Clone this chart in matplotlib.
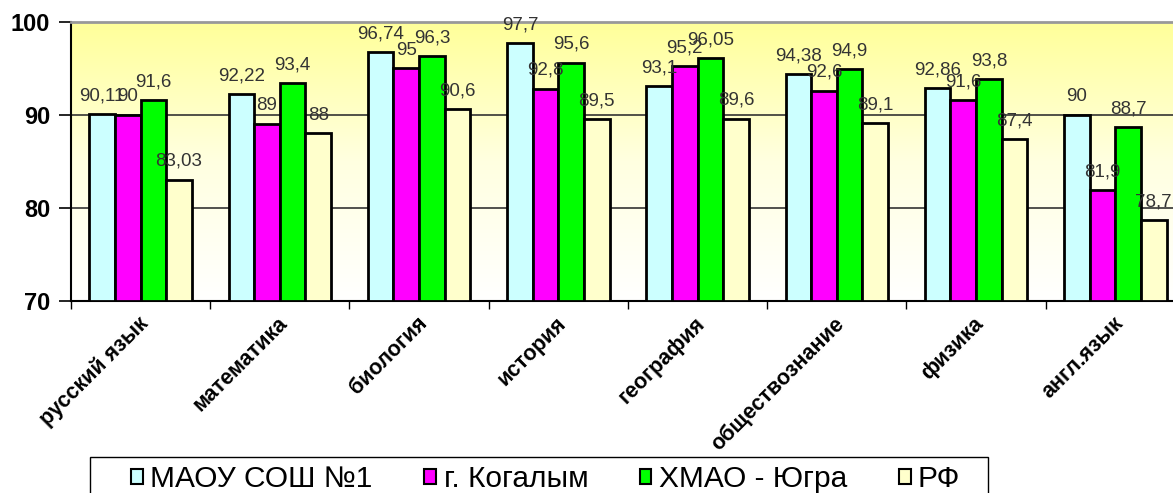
import numpy as np
import matplotlib
matplotlib.use("Agg")
import matplotlib.pyplot as plt
from matplotlib.patches import Patch, Rectangle

plt.rcParams['font.family'] = ['Liberation Sans', 'DejaVu Sans']

subjects = ['русский язык', 'математика', 'биология', 'история',
            'география', 'обществознание', 'физика', 'англ.язык']
series = ['МАОУ СОШ №1', 'г. Когалым', 'ХМАО - Югра', 'РФ']
maou = [90.11, 92.22, 96.74, 97.7, 93.1, 94.38, 92.86, 90]
kogalym = [90, 89, 95, 92.8, 95.2, 92.6, 91.6, 81.9]
hmao = [91.6, 93.4, 96.3, 95.6, 96.05, 94.9, 93.8, 88.7]
rf = [83.03, 88, 90.6, 89.5, 89.6, 89.1, 87.4, 78.7]
colors = ['#CCFFFF', '#FF00FF', '#00FF00', '#FFFFCC']

fig = plt.figure(figsize=(11.73, 4.93), dpi=100)
ax = fig.add_axes([0.0605, 0.3895, 0.9497, 0.5665])

# фон: жёлтый сверху -> белый снизу
grad = np.linspace(0, 1, 256).reshape(-1, 1)
cmap = matplotlib.colors.LinearSegmentedColormap.from_list('bg', ['#FFFF99', '#FFFFE0', '#FFFFFF'])
ax.imshow(grad, aspect='auto', cmap=cmap, extent=[0, 1, 0, 1], origin='upper',
          transform=ax.transAxes, zorder=0)

x = np.arange(len(subjects))
w = 0.184
for i, (vals, name, c) in enumerate(zip([maou, kogalym, hmao, rf], series, colors)):
    pos = x + (i - 1.5) * w
    ax.bar(pos, [v - 70 for v in vals], w, bottom=70, color=c,
           edgecolor='black', linewidth=2, label=name, zorder=3)
    for xp, v in zip(pos, vals):
        ax.annotate(f'{v:g}'.replace('.', ','), (xp, v), xytext=(0, 7),
                    textcoords='offset points', ha='center', va='bottom',
                    fontsize=13.5, color='#333333', zorder=4)

ax.set_xlim(-0.5, len(subjects) - 0.5)
ax.set_ylim(70, 100)
ax.set_yticks([70, 80, 90, 100])
ax.tick_params(axis='y', labelsize=17, length=9, width=1.2, direction='out', pad=6)
for lbl in ax.get_yticklabels():
    lbl.set_fontweight('bold')
for yv in [80, 90]:
    ax.axhline(yv, color='#333333', linewidth=1.2, zorder=1)

ax.set_xticks(np.arange(len(subjects) + 1) - 0.5)
ax.set_xticklabels([])
ax.tick_params(axis='x', length=6, width=1, direction='out')
for xi, s in enumerate(subjects):
    ax.text(xi - 0.02, 68.7, s, rotation=45, rotation_mode='anchor', ha='right',
            va='top', fontsize=15.5, fontweight='bold')

ax.spines['top'].set_color('#999999')
ax.spines['top'].set_linewidth(2)
ax.spines['left'].set_linewidth(1.5)
ax.spines['bottom'].set_linewidth(1.5)
ax.spines['right'].set_visible(False)

# рамка легенды
fig.patches.append(Rectangle((90 / 1173, -0.05), (988 - 90) / 1173, 0.05 + 36 / 493,
                             transform=fig.transFigure, facecolor='white',
                             edgecolor='black', linewidth=1))
handles = [Patch(facecolor=c, edgecolor='black', linewidth=1.5) for c in colors]
leg = fig.legend(handles, series, loc='center left',
                 bbox_to_anchor=(131 / 1173, 1 - 479 / 493), ncol=4,
                 fontsize=21.5, frameon=False, handlelength=0.4,
                 handleheight=0.4, handletextpad=0.25, columnspacing=1.72,
                 borderpad=0, borderaxespad=0)

fig.savefig('out.png', dpi=100)
